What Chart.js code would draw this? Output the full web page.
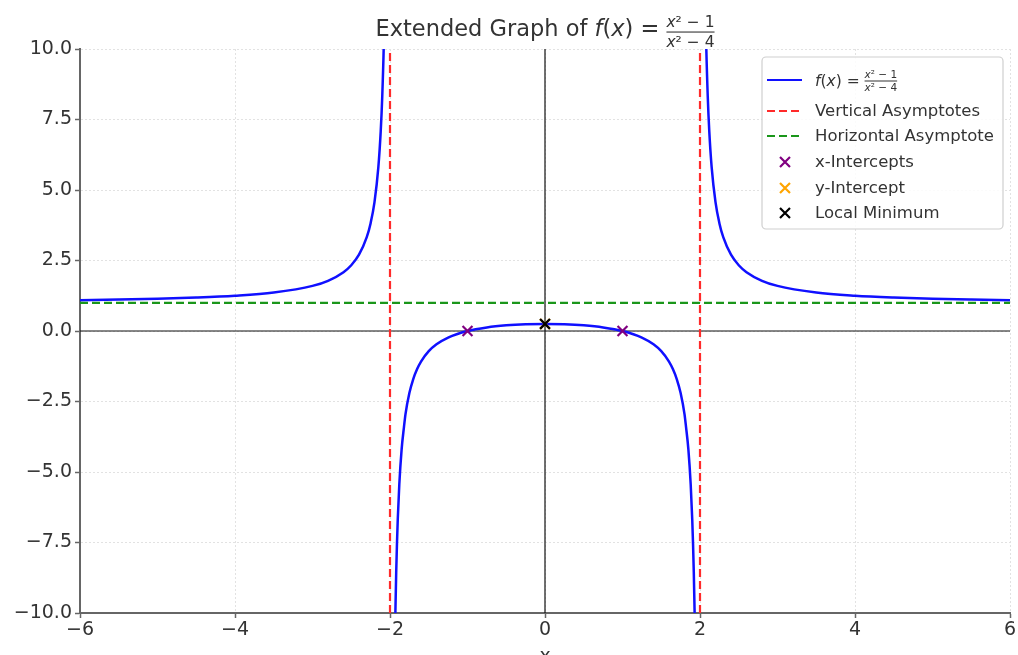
<!DOCTYPE html>
<html>
<head>
<meta charset="utf-8">
<script src="https://cdn.jsdelivr.net/npm/chart.js@4.4.1/dist/chart.umd.min.js"></script>
<style>
  html, body { margin: 0; padding: 0; background: #fff; }
  #wrap { width: 1018px; height: 655px; position: relative; }
</style>
</head>
<body>
<div id="wrap"><canvas id="c" width="1018" height="655"></canvas></div>
<script>
// ---- data ----
const leftX  = [-6, -5.5, -5, -4.5, -4, -3.5, -3, -2.8, -2.6, -2.5, -2.4, -2.3, -2.25, -2.2, -2.15, -2.12, -2.1, -2.08, -2.06];
const leftY  = [1.094, 1.115, 1.143, 1.185, 1.25, 1.364, 1.6, 1.781, 2.087, 2.333, 2.705, 3.326, 3.824, 4.571, 5.819, 7.068, 8.317, 10.19, 13.3];
const midX   = [-1.94, -1.93, -1.92, -1.91, -1.9, -1.88, -1.85, -1.82, -1.8, -1.75, -1.7, -1.65, -1.6, -1.5, -1.4, -1.25, -1, -0.75, -0.5, -0.25, 0, 0.25, 0.5, 0.75, 1, 1.25, 1.4, 1.5, 1.6, 1.65, 1.7, 1.75, 1.8, 1.82, 1.85, 1.88, 1.9, 1.91, 1.92, 1.93, 1.94];
const midY   = [-11.69, -9.905, -8.566, -7.53, -6.692, -5.443, -4.195, -3.410, -2.947, -2.2, -1.703, -1.349, -1.083, -0.714, -0.471, -0.231, 0, 0.127, 0.2, 0.238, 0.25, 0.238, 0.2, 0.127, 0, -0.231, -0.471, -0.714, -1.083, -1.349, -1.703, -2.2, -2.947, -3.410, -4.195, -5.443, -6.692, -7.53, -8.566, -9.905, -11.69];
const rightX = [2.06, 2.08, 2.1, 2.12, 2.15, 2.2, 2.25, 2.3, 2.4, 2.5, 2.6, 2.8, 3, 3.5, 4, 4.5, 5, 5.5, 6];
const rightY = [13.3, 10.19, 8.317, 7.068, 5.819, 4.571, 3.824, 3.326, 2.705, 2.333, 2.087, 1.781, 1.6, 1.364, 1.25, 1.185, 1.143, 1.115, 1.094];
const vAsymX = [-2, 2];
const hAsymY = [1];
const xInterceptX = [-1, 1];
const yInterceptY = [0.25];
const localMin = [0, 0.25];
const xTicks = [-6, -4, -2, 0, 2, 4, 6];
const yTicks = [-10, -7.5, -5, -2.5, 0, 2.5, 5, 7.5, 10];
const xRange = [-6, 6];
const yRange = [-10, 10];

const pts = (xs, ys) => xs.map((x, i) => ({x: x, y: ys[i]}));
const minus = s => String(s).replace('-', '\u2212');
const FONT = '"DejaVu Sans", "Liberation Sans", sans-serif';

const datasets = [];
// axis lines
datasets.push({data: [{x: xRange[0], y: 0}, {x: xRange[1], y: 0}], borderColor: '#111', borderWidth: 1.2, showLine: true, pointRadius: 0, order: 6});
datasets.push({data: [{x: 0, y: yRange[0]}, {x: 0, y: yRange[1]}], borderColor: '#111', borderWidth: 1.2, showLine: true, pointRadius: 0, order: 6});
// curve
[[leftX, leftY], [midX, midY], [rightX, rightY]].forEach(([xs, ys]) => {
  datasets.push({data: pts(xs, ys), borderColor: '#1010ff', borderWidth: 2.5, showLine: true, pointRadius: 0, cubicInterpolationMode: 'monotone', order: 5});
});
// vertical asymptotes
vAsymX.forEach(x => datasets.push({data: [{x: x, y: yRange[0]}, {x: x, y: yRange[1]}], borderColor: '#ff2a2a', borderWidth: 2.2, borderDash: [8, 4], showLine: true, pointRadius: 0, order: 4}));
// horizontal asymptote
hAsymY.forEach(y => datasets.push({data: [{x: xRange[0], y: y}, {x: xRange[1], y: y}], borderColor: '#1a961a', borderWidth: 2.2, borderDash: [8, 4], showLine: true, pointRadius: 0, order: 4}));
// markers
datasets.push({data: xInterceptX.map(x => ({x: x, y: 0})), pointStyle: 'crossRot', pointRadius: 7, borderColor: '#800080', borderWidth: 2.2, showLine: false, order: 3});
datasets.push({data: yInterceptY.map(y => ({x: 0, y: y})), pointStyle: 'crossRot', pointRadius: 7, borderColor: '#ffa500', borderWidth: 2.2, showLine: false, order: 2});
datasets.push({data: [{x: localMin[0], y: localMin[1]}], pointStyle: 'crossRot', pointRadius: 7, borderColor: '#000', borderWidth: 2.2, showLine: false, order: 1});

// math text helpers: segments [text, italic]
function segWidth(ctx, segs, size) {
  let w = 0;
  segs.forEach(([t, it]) => { ctx.font = (it ? 'italic ' : '') + size + 'px ' + FONT; w += ctx.measureText(t).width; });
  return w;
}
function drawSegs(ctx, segs, size, x, y) {
  segs.forEach(([t, it]) => { ctx.font = (it ? 'italic ' : '') + size + 'px ' + FONT; ctx.fillText(t, x, y); x += ctx.measureText(t).width; });
  return x;
}
const NUM = [['x', true], ['\u00b2 \u2212 1', false]];
const DEN = [['x', true], ['\u00b2 \u2212 4', false]];
const FX = [['f', true], ['(', false], ['x', true], [') = ', false]];

function drawFrac(ctx, x, barY, size) {
  const wn = segWidth(ctx, NUM, size), wd = segWidth(ctx, DEN, size);
  const w = Math.max(wn, wd);
  ctx.textAlign = 'left';
  ctx.textBaseline = 'alphabetic';
  drawSegs(ctx, NUM, size, x + (w - wn) / 2, barY - size * 0.3);
  drawSegs(ctx, DEN, size, x + (w - wd) / 2, barY + size * 0.95);
  ctx.fillRect(x, barY - 0.5, w, Math.max(1, size * 0.07));
  return w;
}

const decor = {
  id: 'decor',
  afterDraw(chart) {
    const ctx = chart.ctx;
    const cx0 = chart.scales.x.getPixelForValue(0);
    // ----- title -----
    ctx.save();
    ctx.fillStyle = '#333';
    ctx.textBaseline = 'alphabetic';
    const tSize = 22.5, fSize = 15.5;
    const pre = [['Extended Graph of ', false]].concat(FX);
    const w1 = segWidth(ctx, pre, tSize);
    const fw = Math.max(segWidth(ctx, NUM, fSize), segWidth(ctx, DEN, fSize));
    let x = cx0 - (w1 + fw) / 2;
    x = drawSegs(ctx, pre, tSize, x, 36);
    drawFrac(ctx, x, 32, fSize);
    ctx.restore();

    // ----- x label -----
    ctx.save();
    ctx.fillStyle = '#333';
    ctx.font = '19px ' + FONT;
    ctx.textAlign = 'center';
    ctx.textBaseline = 'alphabetic';
    ctx.fillText('x', cx0, 662);
    ctx.restore();

    // ----- legend -----
    ctx.save();
    const lx = 762, ly = 57, lw = 241, lh = 172;
    ctx.beginPath();
    ctx.roundRect(lx, ly, lw, lh, 4);
    ctx.fillStyle = 'rgba(255,255,255,0.85)';
    ctx.fill();
    ctx.strokeStyle = '#cfcfcf';
    ctx.lineWidth = 1.2;
    ctx.stroke();
    const tx = 815;
    const rows = [
      {y: 80, kind: 'line', color: '#1010ff', dash: []},
      {y: 111, kind: 'line', color: '#ff2a2a', dash: [8, 4], text: 'Vertical Asymptotes'},
      {y: 136, kind: 'line', color: '#1a961a', dash: [8, 4], text: 'Horizontal Asymptote'},
      {y: 162, kind: 'mark', color: '#800080', text: 'x-Intercepts'},
      {y: 188, kind: 'mark', color: '#ffa500', text: 'y-Intercept'},
      {y: 213, kind: 'mark', color: '#000', text: 'Local Minimum'}
    ];
    rows.forEach(r => {
      ctx.strokeStyle = r.color;
      ctx.lineWidth = 2.2;
      if (r.kind === 'line') {
        ctx.setLineDash(r.dash);
        ctx.beginPath(); ctx.moveTo(767, r.y); ctx.lineTo(802, r.y); ctx.stroke();
        ctx.setLineDash([]);
      } else {
        const cx = 785, s = 5;
        ctx.beginPath();
        ctx.moveTo(cx - s, r.y - s); ctx.lineTo(cx + s, r.y + s);
        ctx.moveTo(cx - s, r.y + s); ctx.lineTo(cx + s, r.y - s);
        ctx.stroke();
      }
      ctx.fillStyle = '#333';
      if (r.text) {
        ctx.textBaseline = 'middle';
        ctx.font = '16.5px ' + FONT;
        ctx.fillText(r.text, tx, r.y + 1);
      } else {
        ctx.textBaseline = 'alphabetic';
        const xx = drawSegs(ctx, FX, 15.5, tx, r.y + 6);
        drawFrac(ctx, xx, r.y + 1, 10.5);
      }
    });
    ctx.restore();
  }
};

const gridOpts = {color: '#e2e2e2', lineWidth: 1, drawTicks: true, tickLength: 5,
                  tickColor: '#666', tickWidth: 1.5, tickBorderDash: []};
const borderOpts = {display: true, color: '#666', width: 2, dash: [2, 2]};

new Chart(document.getElementById('c'), {
  type: 'scatter',
  data: {datasets: datasets},
  plugins: [decor],
  options: {
    responsive: false,
    animation: false,
    layout: {autoPadding: false, padding: {top: 49, right: 8, left: 0, bottom: 0}},
    plugins: {legend: {display: false}, title: {display: false}, tooltip: {enabled: false}},
    scales: {
      x: {
        type: 'linear', min: xRange[0], max: xRange[1],
        afterFit(s) { s.height = 42; s.paddingLeft = 0; s.paddingRight = 0; },
        afterBuildTicks(s) { s.ticks = xTicks.map(v => ({value: v})); },
        ticks: {color: '#333', font: {family: FONT, size: 19}, padding: 1, maxRotation: 0,
                callback: v => minus(v)},
        grid: gridOpts,
        border: borderOpts
      },
      y: {
        type: 'linear', min: yRange[0], max: yRange[1],
        afterFit(s) { s.width = 80; s.paddingTop = 0; s.paddingBottom = 0; },
        afterBuildTicks(s) { s.ticks = yTicks.map(v => ({value: v})); },
        ticks: {color: '#333', font: {family: FONT, size: 19}, padding: 3,
                callback: v => minus(Number(v).toFixed(1))},
        grid: gridOpts,
        border: borderOpts
      }
    }
  }
});
</script>
</body>
</html>
